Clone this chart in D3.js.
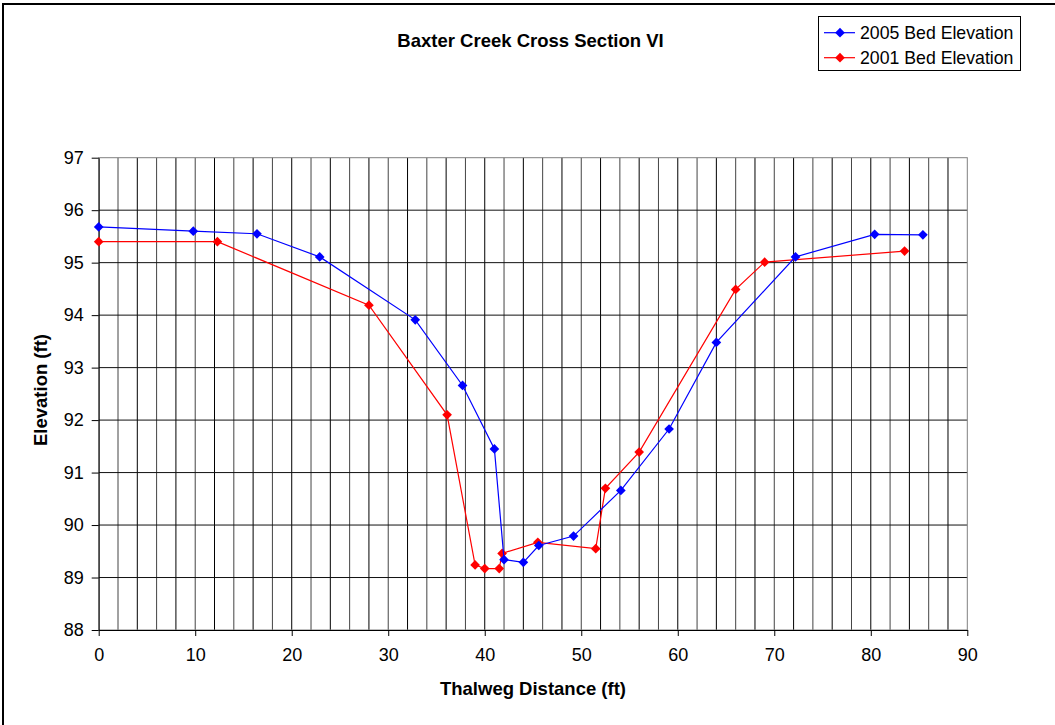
<!DOCTYPE html>
<html>
<head>
<meta charset="utf-8">
<script src="https://cdn.jsdelivr.net/npm/d3@7"></script>
<style>
  body { margin: 0; background: #fff; }
  text { font-family: "Liberation Sans", Arial, sans-serif; }
</style>
</head>
<body>
<svg id="chart" width="1055" height="725"></svg>
<script>
// values
var dist2005 = [0, 9.8, 16.4, 22.9, 32.8, 37.7, 41.0, 42.0, 44.0, 45.6, 49.2, 54.1, 59.1, 64.0, 72.2, 80.4, 85.4];
var elev2005 = [95.68, 95.60, 95.55, 95.11, 93.91, 92.66, 91.45, 89.34, 89.29, 89.61, 89.79, 90.66, 91.83, 93.48, 95.11, 95.54, 95.53];
var dist2001 = [0, 12.3, 28.0, 36.1, 39.0, 40.0, 41.5, 41.8, 45.5, 51.5, 52.5, 56.0, 66.0, 69.0, 83.5];
var elev2001 = [95.40, 95.40, 94.19, 92.10, 89.24, 89.17, 89.17, 89.46, 89.67, 89.55, 90.70, 91.39, 94.49, 95.01, 95.22];
var xTicks = [0, 10, 20, 30, 40, 50, 60, 70, 80, 90];
var yTicks = [88, 89, 90, 91, 92, 93, 94, 95, 96, 97];
var seriesNames = ["2005 Bed Elevation", "2001 Bed Elevation"];
var seriesColors = ["#0000ff", "#ff0000"];

var svg = d3.select("#chart");

// outer chart frame (right / bottom edges fall off the picture)
svg.append("rect").attr("x", 3).attr("y", 4).attr("width", 1070).attr("height", 740)
  .attr("fill", "none").attr("stroke", "#000").attr("stroke-width", 2);

var x = d3.scaleLinear().domain([0, 90]).range([98.7, 967.3]);
var y = d3.scaleLinear().domain([88, 97]).range([630, 157.7]);

// Gridlines : every 2 ft on x, every 1 ft on y
var grid = svg.append("g").attr("id", "grid");
grid.selectAll("line.vg")
  .data(d3.range(2, 90, 2))
  .enter().append("line").attr("class", "vg")
  .attr("x1", d => x(d)).attr("x2", d => x(d))
  .attr("y1", y(97)).attr("y2", y(88))
  .attr("stroke", (d, i) => i % 2 == 0 ? "#444" : "#000").attr("stroke-width", 1);
grid.selectAll("line.hg")
  .data(yTicks.slice(1, -1))
  .enter().append("line").attr("class", "hg")
  .attr("x1", x(0)).attr("x2", x(90))
  .attr("y1", d => y(d)).attr("y2", d => y(d))
  .attr("stroke", "#111").attr("stroke-width", 1);
// plot area border
svg.append("rect").attr("x", x(0)).attr("y", y(97))
  .attr("width", x(90) - x(0)).attr("height", y(88) - y(97))
  .attr("fill", "none").attr("stroke", "#808080").attr("stroke-width", 1);

// axes
svg.append("g").attr("transform", "translate(0," + y(88) + ")")
  .call(d3.axisBottom(x).tickValues(xTicks).tickSize(6).tickPadding(12).tickSizeOuter(0))
  .call(g => g.selectAll("text").attr("font-size", 18).attr("fill", "#000")
    .style("font-family", "'Liberation Sans', Arial, sans-serif"))
  .call(g => g.selectAll("line, path").attr("stroke", "#000"));

svg.append("g").attr("transform", "translate(" + x(0) + ",0)")
  .call(d3.axisLeft(y).tickValues(yTicks).tickSize(7).tickPadding(8).tickSizeOuter(0))
  .call(g => g.selectAll("text").attr("font-size", 18).attr("fill", "#000")
    .style("font-family", "'Liberation Sans', Arial, sans-serif"))
  .call(g => g.selectAll("line, path").attr("stroke", "#000"));

// Lines + diamond markers
var series = [
  { name: seriesNames[1], color: seriesColors[1], pts: dist2001.map((d, i) => [d, elev2001[i]]) },
  { name: seriesNames[0], color: seriesColors[0], pts: dist2005.map((d, i) => [d, elev2005[i]]) }
];
var line = d3.line().x(d => x(d[0])).y(d => y(d[1]));
var diamond = d3.symbol().type(d3.symbolDiamond2).size(60);

series.forEach(s => {
  var g = svg.append("g");
  g.append("path").attr("d", line(s.pts))
    .attr("fill", "none").attr("stroke", s.color).attr("stroke-width", 1.2);
  g.selectAll("path.mk").data(s.pts).enter().append("path").attr("class", "mk")
    .attr("d", diamond)
    .attr("transform", d => "translate(" + x(d[0]) + "," + y(d[1]) + ")")
    .attr("fill", s.color);
});

// titles
svg.append("text").text("Baxter Creek Cross Section VI")
  .attr("x", 530.5).attr("y", 47).attr("text-anchor", "middle")
  .attr("font-size", 18.5).attr("font-weight", "bold");
svg.append("text").text("Thalweg Distance (ft)")
  .attr("x", 533).attr("y", 695).attr("text-anchor", "middle")
  .attr("font-size", 18.5).attr("font-weight", "bold");
svg.append("text").text("Elevation (ft)")
  .attr("transform", "translate(47,390) rotate(-90)").attr("text-anchor", "middle")
  .attr("font-size", 18.5).attr("font-weight", "bold");

// Legend
var legend = svg.append("g").attr("id", "legend");
legend.append("rect").attr("x", 818.5).attr("y", 16.5).attr("width", 202).attr("height", 54)
  .attr("fill", "#fff").attr("stroke", "#000").attr("stroke-width", 1);
seriesNames.forEach((n, i) => {
  var ly = 32.7 + i * 25;
  legend.append("line").attr("x1", 824).attr("x2", 855).attr("y1", ly).attr("y2", ly)
    .attr("stroke", seriesColors[i]).attr("stroke-width", 1.2);
  legend.append("path").attr("d", diamond)
    .attr("transform", "translate(840," + ly + ")").attr("fill", seriesColors[i]);
  legend.append("text").text(n).attr("x", 860).attr("y", ly + 6)
    .attr("font-size", 17.7);
});
</script>
</body>
</html>
